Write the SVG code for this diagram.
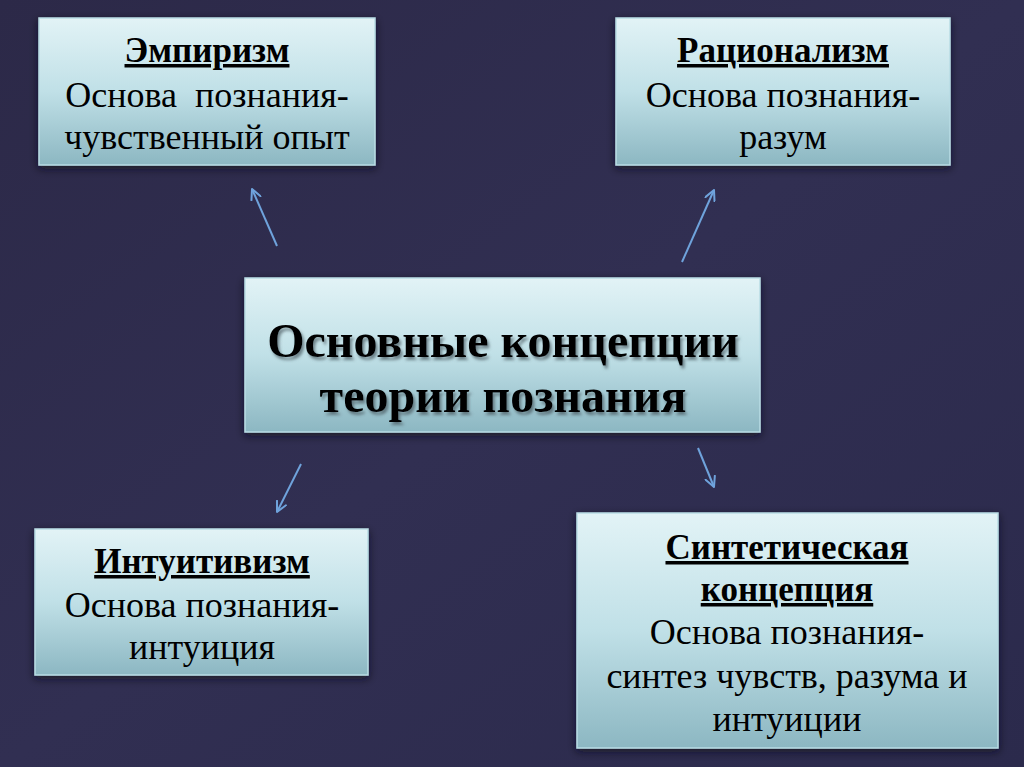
<svg xmlns="http://www.w3.org/2000/svg" width="1024" height="767" viewBox="0 0 1024 767">
  <defs>
    <linearGradient id="bg" x1="0" y1="0" x2="1" y2="1">
      <stop offset="0" stop-color="#2c2948"/>
      <stop offset="0.5" stop-color="#312f52"/>
      <stop offset="1" stop-color="#2b2a4c"/>
    </linearGradient>
    <linearGradient id="boxfill" x1="0" y1="0" x2="0" y2="1">
      <stop offset="0" stop-color="#e2f3f6"/>
      <stop offset="0.5" stop-color="#c0e0e7"/>
      <stop offset="1" stop-color="#8cb7c2"/>
    </linearGradient>
    <filter id="shadow" x="-10%" y="-10%" width="120%" height="130%">
      <feDropShadow dx="0" dy="3" stdDeviation="4" flood-color="#0c0b1c" flood-opacity="0.7"/>
    </filter>
    <filter id="tshadow" x="-5%" y="-20%" width="110%" height="150%">
      <feDropShadow dx="2" dy="3" stdDeviation="1.5" flood-color="#4a5a60" flood-opacity="0.7"/>
    </filter>
    <marker id="arr" viewBox="0 0 12 12" refX="11" refY="6" markerWidth="12" markerHeight="12" markerUnits="userSpaceOnUse" orient="auto">
      <path d="M1,1 L11,6 L1,11" fill="none" stroke="#6fa3dc" stroke-width="2" stroke-linecap="round" stroke-linejoin="round"/>
    </marker>
  </defs>
  <style>
    .box { fill: url(#boxfill); stroke: #b9dde5; stroke-width: 1.5; filter: url(#shadow); }
    text { font-family: "Liberation Serif", "Times New Roman", "DejaVu Serif", serif; fill: #000; text-anchor: middle; }
    .t { font-size: 35px; font-weight: bold; text-decoration: underline; }
    .b { font-size: 36px; }
    .c { font-size: 48px; font-weight: bold; filter: url(#tshadow); }
    .conn { stroke: #6fa3dc; stroke-width: 2; fill: none; marker-end: url(#arr); }
  </style>
  <rect width="1024" height="767" fill="url(#bg)"/>

  <g id="connectors">
    <line class="conn" x1="277" y1="246" x2="252" y2="189"/>
    <line class="conn" x1="682" y1="262" x2="714" y2="190"/>
    <line class="conn" x1="301" y1="464" x2="277" y2="512"/>
    <line class="conn" x1="698" y1="448" x2="714" y2="487"/>
  </g>

  <g id="empirism">
    <rect class="box" x="39" y="18" width="336" height="147"/>
    <text class="t" x="207" y="62">Эмпиризм</text>
    <text class="b" x="207" y="107" xml:space="preserve">Основа  познания-</text>
    <text class="b" x="207" y="149">чувственный опыт</text>
  </g>

  <g id="rationalism">
    <rect class="box" x="616" y="18" width="334" height="147"/>
    <text class="t" x="783" y="62">Рационализм</text>
    <text class="b" x="783" y="107">Основа познания-</text>
    <text class="b" x="783" y="149">разум</text>
  </g>

  <g id="center">
    <rect class="box" x="245" y="278" width="515" height="154"/>
    <text class="c" x="503" y="357">Основные концепции</text>
    <text class="c" x="503" y="412">теории познания</text>
  </g>

  <g id="intuitivism">
    <rect class="box" x="35" y="529" width="333" height="146"/>
    <text class="t" x="202" y="573">Интуитивизм</text>
    <text class="b" x="202" y="617">Основа познания-</text>
    <text class="b" x="202" y="659">интуиция</text>
  </g>

  <g id="synthetic">
    <rect class="box" x="577" y="513" width="421" height="235"/>
    <text class="t" x="787" y="559">Синтетическая</text>
    <text class="t" x="787" y="601">концепция</text>
    <text class="b" x="787" y="644">Основа познания-</text>
    <text class="b" x="787" y="688">синтез чувств, разума и</text>
    <text class="b" x="787" y="731">интуиции</text>
  </g>
</svg>
